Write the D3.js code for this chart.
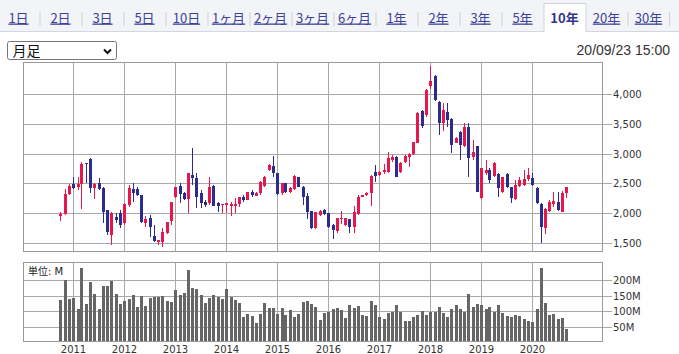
<!DOCTYPE html>
<html>
<head>
<meta charset="utf-8">
<script src="https://cdn.jsdelivr.net/npm/d3@7"></script>
<style>
  body { margin: 0; background: #fff; }
  svg text { font-family: "DejaVu Sans", Verdana, sans-serif; }
</style>
</head>
<body>
<div id="frame"></div>
<script>
'use strict'

// ---- data (monthly candles, Oct 2010 - Sep 2020) ----
var startMonth = [2010, 9]   // year, month index of the first candle
var opens = [1950,1976,2320,2488,2440,2488,2840,2905,2426,2499,2426,2049,1627,1936,2004,1824,2133,2398,2398,2302,
  1835,1908,1610,1514,1514,1666,1863,2274,2454,2330,2235,2640,2584,2342,2190,2173,2454,2162,2133,2133,
  2122,2122,2150,2263,2218,2359,2291,2342,2454,2724,2792,2668,2330,2499,2350,2398,2601,2443,2290,2030,
  1739,1960,2049,1993,1796,1700,1900,1800,1891,1767,1976,2274,2302,2330,2685,2640,2696,2696,2893,2950,
  2696,2854,2950,2989,3186,3721,3653,4132,4301,3862,3524,3699,3580,3186,3372,3130,3445,2950,3130,2257,
  2680,2724,2623,2657,2359,2657,2432,2229,2454,2471,2567,2595,2415,2150,1739,2038,2150,2190,2021,2330]
var highs = [2010,2400,2490,2612,2610,2850,2845,2922,2500,2584,2432,2049,2021,1993,2049,2162,2471,2499,2432,2310,
  1948,1964,1796,1545,1739,1852,2180,2443,2499,2359,2680,3090,2668,2387,2218,2612,2471,2190,2150,2165,
  2190,2246,2274,2302,2359,2387,2345,2540,2623,2820,2961,2680,2510,2510,2440,2640,2612,2460,2330,2040,
  2020,2050,2060,2000,1810,1920,2032,1915,1900,2116,2302,2310,2359,2640,2809,2700,2826,3034,2978,2960,
  2860,2970,3006,3200,3700,3738,4090,4470,4329,3879,3851,3851,3597,3280,3389,3524,3524,3231,3130,2753,
  2893,2753,2865,2668,2612,2668,2443,2556,2612,2724,2753,2668,2443,2173,2077,2218,2359,2359,2370,2443]
var lows = [1870,1965,2300,2410,2380,2060,2500,2342,2230,2387,1835,1627,1458,1824,1739,1796,2105,2190,2290,1824,
  1767,1599,1514,1458,1430,1650,1796,2246,2162,2218,1993,2471,2077,2077,2105,2133,2115,2021,1993,1993,
  1948,1993,2105,2190,2218,2274,2280,2300,2440,2700,2612,2300,2302,2340,2340,2390,2430,2133,1900,1720,
  1720,1950,1960,1740,1553,1655,1810,1780,1655,1666,1964,2260,2290,2122,2527,2630,2657,2668,2865,2600,
  2680,2840,2781,2980,3180,3428,3610,4087,3879,3316,3389,3457,3017,3175,2893,3107,2612,2893,2359,2229,
  2640,2511,2612,2263,2342,2415,2173,2218,2443,2454,2544,2454,2150,1497,1644,2021,2105,2038,2010,2246]
var closes = [1975,2320,2453,2420,2488,2826,2825,2426,2488,2398,2021,1683,1993,1880,1796,2150,2426,2342,2302,1852,
  1891,1756,1531,1542,1683,1840,2180,2443,2319,2235,2668,2595,2263,2173,2133,2432,2122,2122,2150,2162,
  2150,2150,2263,2218,2359,2302,2342,2527,2612,2809,2668,2319,2499,2359,2420,2623,2443,2274,2021,1739,
  2010,2038,1981,1767,1711,1908,1908,1908,1767,2010,2274,2302,2342,2623,2623,2696,2724,2922,2950,2612,
  2848,2961,2989,3192,3693,3468,4076,4228,3896,3524,3738,3569,3147,3271,3147,3445,2933,3034,2359,2753,
  2724,2556,2837,2415,2601,2432,2246,2471,2556,2567,2640,2471,2173,1767,2066,2190,2207,2049,2330,2432]
// volume in millions
var volumes = [135,199,138,142,106,239,122,193,154,106,180,180,197,154,122,132,138,151,112,148,
  116,141,145,145,148,132,128,168,151,157,231,173,170,151,125,141,151,145,139,170,
  145,135,125,80,90,84,61,90,125,109,109,90,109,87,103,80,90,128,132,122,
  112,71,93,96,106,109,103,77,119,109,116,87,84,132,119,80,74,93,96,119,
  97,67,67,80,87,100,87,96,96,112,93,80,106,119,106,97,154,112,122,119,
  106,112,97,119,93,84,80,87,84,76,67,64,106,238,125,88,90,74,77,42]

var priceTicks = [1500, 2000, 2500, 3000, 3500, 4000]
var volumeTicks = [50, 100, 150, 200]
var years = [2011, 2012, 2013, 2014, 2015, 2016, 2017, 2018, 2019, 2020]
var tabLabels = ["1日","2日","3日","5日","10日","1ヶ月","2ヶ月","3ヶ月","6ヶ月","1年","2年","3年","5年","10年","20年","30年"]
var activeTab = "10年"
var periodLabel = "月足"
var stampLabel = "20/09/23 15:00"
var unitLabel = "単位: M"

var upColor = "#e5174c"
var downColor = "#2b2c8e"

var app = {}
app.svg = d3.select("#frame")
  .append("svg")
  .attr("width", 679)
  .attr("height", 354)

// ---- tab bar ----
var tabX = d3.scaleBand().domain(tabLabels).range([-2.5, 669.5])

app.svg.append("rect")
  .attr("x", 0).attr("y", 0)
  .attr("width", 679).attr("height", 31)
  .style("fill", "#f3f4f8")
app.svg.append("line")
  .attr("x1", 0).attr("x2", 679)
  .attr("y1", 31.5).attr("y2", 31.5)
  .style("stroke", "#d3d6e0")

app.svg.append("path")
  .attr("d", () => {
    var l = tabX(activeTab) + 0.5, r = l + tabX.bandwidth()
    return "M" + l + ",32V3.5H" + r + "V32"
  })
  .style("fill", "#fff")
  .style("stroke", "#cfd2dc")

app.svg.selectAll("line.sep")
  .data(tabLabels.slice(1).concat(["end"]))
  .enter().append("line")
  .attr("class", "sep")
  .filter(d => d !== activeTab && tabLabels[tabLabels.indexOf(d) - 1] !== activeTab)
  .attr("x1", d => (d === "end" ? 669.5 : tabX(d) + 0.5))
  .attr("x2", d => (d === "end" ? 669.5 : tabX(d) + 0.5))
  .attr("y1", 12).attr("y2", 26)
  .style("stroke", "#d0d0d0")

app.svg.selectAll("text.tab")
  .data(tabLabels)
  .enter().append("text")
  .attr("class", "tab")
  .attr("x", d => tabX(d) + tabX.bandwidth() / 2)
  .attr("y", 22.5)
  .attr("text-anchor", "middle")
  .style("font-family", "'Noto Sans CJK JP', sans-serif")
  .style("font-size", "13px")
  .style("font-weight", d => (d === activeTab ? "bold" : "normal"))
  .style("text-decoration", d => (d === activeTab ? "none" : "underline"))
  .style("fill", d => (d === activeTab ? "#2f3590" : "#3b4199"))
  .text(d => d)

// ---- select box + timestamp ----
app.svg.append("rect")
  .attr("x", 7.5).attr("y", 41.5)
  .attr("width", 109).attr("height", 18)
  .attr("rx", 2)
  .style("fill", "#fff")
  .style("stroke", "#767676")
app.svg.append("text")
  .attr("x", 12.5).attr("y", 56)
  .style("font-family", "'Noto Sans CJK JP', sans-serif")
  .style("font-size", "14px")
  .style("fill", "#111")
  .text(periodLabel)
app.svg.append("path")
  .attr("d", "M104,49.5L107.5,53L111,49.5")
  .style("fill", "none")
  .style("stroke", "#111")
  .style("stroke-width", 2)

app.svg.append("text")
  .attr("x", 670).attr("y", 55)
  .attr("text-anchor", "end")
  .style("font-family", "'Liberation Sans', Arial, sans-serif")
  .style("font-size", "14px")
  .style("fill", "#333")
  .text(stampLabel)

// ---- scales ----
var plot = { left: 23, right: 602, top: 62, bottom: 251, vtop: 262, vbottom: 341, tick: 612 }
var dates = opens.map((d, i) => new Date(startMonth[0], startMonth[1] + i, 1))
var candles = dates.map((d, i) => ({ date: d, o: opens[i], h: highs[i], l: lows[i], c: closes[i], v: volumes[i] }))

var x = d3.scaleTime()
  .domain([new Date(2010, 0, 1), new Date(2021, 0, 1)])
  .range([22.3, 583.3])
var y = d3.scaleLinear().domain([1357, 4545]).range([251, 62])
var yv = d3.scaleLinear().domain([0, 258]).range([342.3, 262])

var px = v => Math.round(v) + 0.5

// ---- grids ----
var grid = app.svg.append("g").attr("class", "grid")
  .style("stroke", "#a8a8a8")
  .style("shape-rendering", "crispEdges")

grid.selectAll("line.yr")
  .data(years)
  .enter().append("line")
  .attr("class", "yr")
  .attr("x1", d => px(x(new Date(d, 0, 1))))
  .attr("x2", d => px(x(new Date(d, 0, 1))))
  .attr("y1", plot.top).attr("y2", plot.bottom)
grid.selectAll("line.vyr")
  .data(years)
  .enter().append("line")
  .attr("class", "vyr")
  .attr("x1", d => px(x(new Date(d, 0, 1))))
  .attr("x2", d => px(x(new Date(d, 0, 1))))
  .attr("y1", plot.vtop).attr("y2", plot.vbottom)

grid.selectAll("line.py")
  .data(priceTicks)
  .enter().append("line")
  .attr("class", "py")
  .attr("x1", plot.left).attr("x2", plot.tick)
  .attr("y1", d => px(y(d))).attr("y2", d => px(y(d)))
grid.selectAll("line.vy")
  .data(volumeTicks)
  .enter().append("line")
  .attr("class", "vy")
  .attr("x1", plot.left).attr("x2", plot.tick)
  .attr("y1", d => px(yv(d))).attr("y2", d => px(yv(d)))

// ---- frames ----
;[[plot.top, plot.bottom], [plot.vtop, plot.vbottom]].forEach(p => {
  app.svg.append("rect")
    .attr("x", plot.left + 0.5).attr("y", p[0] + 0.5)
    .attr("width", plot.right - plot.left).attr("height", p[1] - p[0])
    .style("fill", "none")
    .style("stroke", "#999")
    .style("shape-rendering", "crispEdges")
})

// ---- axis labels ----
app.svg.selectAll("text.pl")
  .data(priceTicks)
  .enter().append("text")
  .attr("class", "pl")
  .attr("x", plot.tick + 1)
  .attr("y", d => px(y(d)) + 3.5)
  .style("font-size", "10px")
  .style("fill", "#333")
  .text(d => d3.format(",")(d))
app.svg.selectAll("text.vl")
  .data(volumeTicks)
  .enter().append("text")
  .attr("class", "vl")
  .attr("x", plot.tick + 1)
  .attr("y", d => px(yv(d)) + 3.5)
  .style("font-size", "10px")
  .style("fill", "#333")
  .text(d => d + "M")
app.svg.selectAll("text.yl")
  .data(years)
  .enter().append("text")
  .attr("class", "yl")
  .attr("x", d => px(x(new Date(d, 0, 1))))
  .attr("y", 352.5)
  .attr("text-anchor", "middle")
  .style("font-size", "10px")
  .style("fill", "#333")
  .text(d => d)
app.svg.append("text")
  .attr("x", 28).attr("y", 274.5)
  .style("font-family", "'DejaVu Sans', 'Noto Sans CJK JP', sans-serif")
  .style("font-size", "10px")
  .style("fill", "#222")
  .text(unitLabel)

// ---- candles ----
var cg = app.svg.append("g").attr("class", "candles")
  .style("shape-rendering", "crispEdges")
var c = cg.selectAll("g.candle")
  .data(candles)
  .enter().append("g")
  .attr("class", "candle")
  .style("fill", d => (d.c >= d.o ? upColor : downColor))
  .style("stroke", d => (d.c >= d.o ? upColor : downColor))

c.append("line")
  .attr("x1", d => Math.round(x(d.date)) + 0.5)
  .attr("x2", d => Math.round(x(d.date)) + 0.5)
  .attr("y1", d => Math.round(y(d.h)))
  .attr("y2", d => Math.round(y(d.l)))
c.append("rect")
  .style("stroke", "none")
  .attr("x", d => Math.round(x(d.date)) - 1)
  .attr("width", 3)
  .attr("y", d => Math.round(y(Math.max(d.o, d.c))))
  .attr("height", d => Math.max(1, Math.round(y(Math.min(d.o, d.c))) - Math.round(y(Math.max(d.o, d.c)))))

// ---- volume ----
app.svg.append("g").attr("class", "volume")
  .selectAll("rect")
  .data(candles)
  .enter().append("rect")
  .attr("x", d => Math.round(x(d.date)) - 1)
  .attr("width", 3)
  .attr("y", d => Math.round(yv(d.v)))
  .attr("height", d => plot.vbottom - Math.round(yv(d.v)))
  .style("fill", "#666")
  .style("shape-rendering", "crispEdges")
</script>
</body>
</html>
